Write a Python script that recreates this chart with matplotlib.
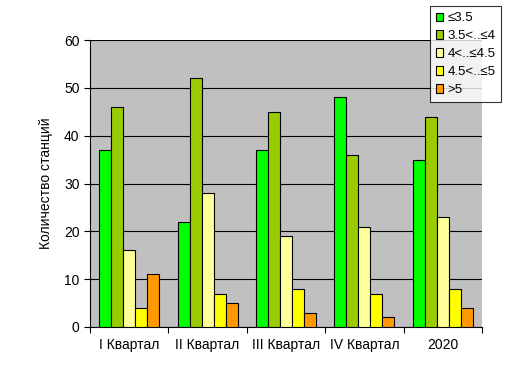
import matplotlib
matplotlib.use("Agg")
import matplotlib.pyplot as plt
import numpy as np

plt.rcParams["font.family"] = ["Liberation Sans", "DejaVu Sans"]

# ── Data ──────────────────────────────────────────────────────────────
categories = ["I Квартал", "II Квартал", "III Квартал", "IV Квартал", "2020"]
series_names = ["≤3.5", "3.5<..≤4", "4<..≤4.5", "4.5<..≤5", ">5"]
le_35 = [37, 22, 37, 48, 35]
r35_4 = [46, 52, 45, 36, 44]
r4_45 = [16, 28, 19, 21, 23]
r45_5 = [4, 7, 8, 7, 8]
gt_5 = [11, 5, 3, 2, 4]
colors = ["#00FF00", "#99CC00", "#FFFF99", "#FFFF00", "#FF9900"]

series = [le_35, r35_4, r4_45, r45_5, gt_5]

fig = plt.figure(figsize=(5.31, 3.82), dpi=100)
ax = fig.add_axes([0.1695, 0.144, 0.738, 0.751])
ax.set_facecolor("#C0C0C0")

x = np.arange(len(categories))
w = 0.153
for i, (vals, name, c) in enumerate(zip(series, series_names, colors)):
    ax.bar(x - 2 * w + i * w, vals, width=w, color=c, edgecolor="black",
           linewidth=0.8, label=name, zorder=3)

ax.set_xlim(-0.5, len(categories) - 0.5)
ax.set_ylim(0, 60)
ax.set_yticks(range(0, 61, 10))
ax.yaxis.grid(True, color="black", linewidth=0.8, zorder=1)
ax.set_axisbelow(True)

ax.set_xticks(x)
ax.set_xticklabels(categories, fontsize=10)
ax.set_xticks(np.arange(-0.5, len(categories)), minor=True)
ax.tick_params(axis="x", which="major", length=0, pad=8)
ax.tick_params(axis="x", which="minor", length=4, width=0.8, direction="out")
ax.tick_params(axis="y", length=4, width=0.8, labelsize=10, direction="out")

for s in ["top", "right"]:
    ax.spines[s].set_visible(False)
for s in ["left", "bottom"]:
    ax.spines[s].set_linewidth(0.8)

ax.set_ylabel("Количество станций", fontsize=10, labelpad=8)

leg = fig.legend(loc="upper left", bbox_to_anchor=(0.804, 0.99),
                 fontsize=9.5, frameon=True, fancybox=False, edgecolor="black",
                 handlelength=0.6, handleheight=0.6, handletextpad=0.3,
                 labelspacing=0.45, borderpad=0.45, borderaxespad=0.2)
leg.get_frame().set_linewidth(0.8)

fig.savefig("out.png", dpi=100)
